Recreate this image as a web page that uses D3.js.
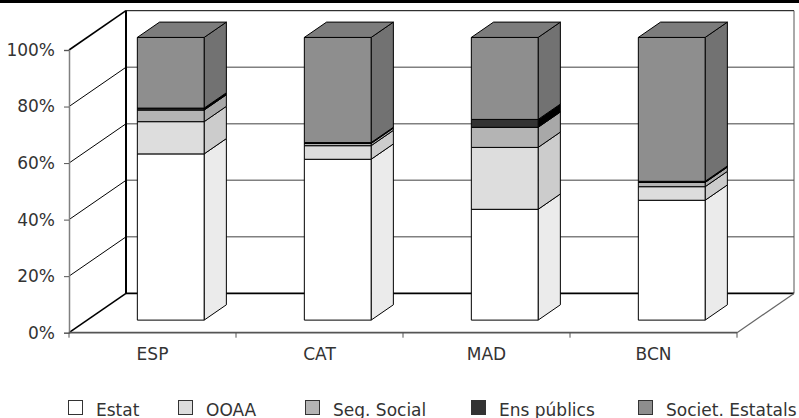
<!DOCTYPE html>
<html>
<head>
<meta charset="utf-8">
<script src="https://cdn.jsdelivr.net/npm/d3@7"></script>
<style>
  body { margin: 0; background: #fff; }
  text { font-family: "DejaVu Sans", sans-serif; fill: #333; }
</style>
</head>
<body>
<svg id="chart" width="799" height="418"></svg>
<script>
let categories = ["ESP", "CAT", "MAD", "BCN"];
let seriesNames = ["Estat", "OOAA", "Seg. Social", "Ens públics", "Societ. Estatals"];
let estat = [58.8, 56.9, 39.2, 42.4];
let ooaa = [11.4, 4.8, 21.9, 4.8];
let segSocial = [4.1, 0.8, 7.1, 1.5];
let ensPublics = [0.7, 0.3, 2.8, 0.4];
let societ = [25.0, 37.2, 29.0, 50.9];
let yTicks = [0, 0.2, 0.4, 0.6, 0.8, 1];

let frontCol = ["#ffffff", "#dddddd", "#b4b4b4", "#333333", "#8e8e8e"];
let sideCol = ["#ebebeb", "#cccccc", "#a8a8a8", "#000000", "#727272"];
let topCol = "#7c7c7c";

let svg = d3.select("#chart");

// top rule
svg.append("rect").attr("x", 0).attr("y", 0).attr("width", 799).attr("height", 3).attr("fill", "#000");

// projection for depth
let depthX = 57, depthY = 39.3;
function proj(px, py, z) { return [px + depthX * z, py - depthY * z]; }

let x = d3.scaleBand().domain(categories).range([69, 737]);
let y = d3.scaleLinear().domain([0, 1]).range([332.7, 50]);

let rows = categories.map((c, i) => ({
  cat: c, s0: estat[i], s1: ooaa[i], s2: segSocial[i], s3: ensPublics[i], s4: societ[i]
}));
let stack = d3.stack().keys(["s0", "s1", "s2", "s3", "s4"]).offset(d3.stackOffsetExpand);
let layers = stack(rows);

let walls = svg.append("g");
let [x0, x1] = x.range();

// back wall gridlines
walls.selectAll("line.grid")
  .data(yTicks.slice(1, -1))
  .enter().append("line")
  .attr("x1", d => proj(x0, y(d), 1)[0]).attr("y1", d => proj(x0, y(d), 1)[1])
  .attr("x2", d => proj(x1, y(d), 1)[0]).attr("y2", d => proj(x1, y(d), 1)[1])
  .attr("stroke", "#808080").attr("stroke-width", 1.5);

// side wall diagonals
walls.selectAll("line.diag")
  .data(yTicks)
  .enter().append("line")
  .attr("x1", x0).attr("y1", d => y(d))
  .attr("x2", d => proj(x0, y(d), 1)[0]).attr("y2", d => proj(x0, y(d), 1)[1])
  .attr("stroke", "#000").attr("stroke-width", d => (d === 0 || d === 1) ? 1.6 : 1);

// back wall frame
let bTL = proj(x0, y(1), 1), bBL = proj(x0, y(0), 1), bTR = proj(x1, y(1), 1), bBR = proj(x1, y(0), 1);
walls.append("line").attr("x1", bTL[0]).attr("y1", bTL[1]).attr("x2", bTR[0]).attr("y2", bTR[1]).attr("stroke", "#000").attr("stroke-width", 1);
walls.append("line").attr("x1", bTR[0]).attr("y1", bTR[1]).attr("x2", bBR[0]).attr("y2", bBR[1]).attr("stroke", "#555").attr("stroke-width", 1);
walls.append("line").attr("x1", bBL[0]).attr("y1", bBL[1]).attr("x2", bBR[0]).attr("y2", bBR[1]).attr("stroke", "#000").attr("stroke-width", 1.6);
walls.append("line").attr("x1", bTL[0]).attr("y1", bTL[1]).attr("x2", bBL[0]).attr("y2", bBL[1]).attr("stroke", "#000").attr("stroke-width", 2);
// floor right edge
walls.append("line").attr("x1", x1).attr("y1", y(0)).attr("x2", bBR[0]).attr("y2", bBR[1]).attr("stroke", "#666").attr("stroke-width", 1.2);

// bars
let bw = x.bandwidth() * 0.4;
let z0 = 0.32, z1 = 0.71;
let bars = svg.append("g");

function poly(pts) { return "M" + pts.map(p => p.join(",")).join("L") + "Z"; }

categories.forEach((c, ci) => {
  let fx0 = x(c) + (x.bandwidth() - bw) / 2;
  let fx1 = fx0 + bw;
  let g = bars.append("g");
  layers.forEach((layer, li) => {
    let [v0, v1] = layer[ci];
    if (v1 - v0 <= 0) return;
    let ya = y(v0), yb = y(v1);
    let fBL = proj(fx0, ya, z0), fBR = proj(fx1, ya, z0), fTR = proj(fx1, yb, z0), fTL = proj(fx0, yb, z0);
    let kBR = proj(fx1, ya, z1), kTR = proj(fx1, yb, z1), kTL = proj(fx0, yb, z1);
    g.append("path").attr("d", poly([fBR, kBR, kTR, fTR]))
      .attr("fill", sideCol[li]).attr("stroke", "#000").attr("stroke-width", 1).attr("stroke-linejoin", "round");
    g.append("path").attr("d", poly([fBL, fBR, fTR, fTL]))
      .attr("fill", frontCol[li]).attr("stroke", "#000").attr("stroke-width", 1).attr("stroke-linejoin", "round");
    if (li === layers.length - 1) {
      g.append("path").attr("d", poly([fTL, fTR, kTR, kTL]))
        .attr("fill", topCol).attr("stroke", "#000").attr("stroke-width", 1).attr("stroke-linejoin", "round");
    }
  });
});

// y axis
let yAxis = svg.append("g").attr("transform", `translate(${x0},0)`)
  .call(d3.axisLeft(y).tickValues(yTicks).tickFormat(d3.format(".0%")).tickSize(5).tickPadding(9));
yAxis.select(".domain").attr("stroke", "#808080").attr("stroke-width", 1.5);
yAxis.selectAll(".tick line").attr("stroke", "#555");
yAxis.selectAll("text").style("font-size", "17px").style("font-family", "DejaVu Sans, sans-serif").attr("fill", "#333");

// x axis
svg.append("line").attr("x1", x0).attr("y1", y(0)).attr("x2", x1).attr("y2", y(0))
  .attr("stroke", "#555").attr("stroke-width", 1.8);
svg.selectAll("line.xtick")
  .data(categories.map(c => x(c)).concat([x1]))
  .enter().append("line")
  .attr("x1", d => d).attr("x2", d => d).attr("y1", y(0)).attr("y2", y(0) + 5)
  .attr("stroke", "#555");
svg.selectAll("text.cat")
  .data(categories)
  .enter().append("text")
  .text(d => d)
  .attr("x", d => x(d) + x.bandwidth() / 2)
  .attr("y", 360)
  .attr("text-anchor", "middle")
  .style("font-size", "17px");

// legend
let legendX = [68, 178, 305, 471, 638];
let legend = svg.selectAll("g.legend")
  .data(seriesNames)
  .enter().append("g")
  .attr("transform", (d, i) => `translate(${legendX[i]},400)`);
legend.append("rect").attr("x", 0.5).attr("y", 0.5).attr("width", 14).attr("height", 14)
  .attr("fill", (d, i) => frontCol[i]).attr("stroke", "#333").attr("stroke-width", 1);
legend.append("text").text(d => d).attr("x", 28).attr("y", 15.5).style("font-size", "17px");
</script>
</body>
</html>
